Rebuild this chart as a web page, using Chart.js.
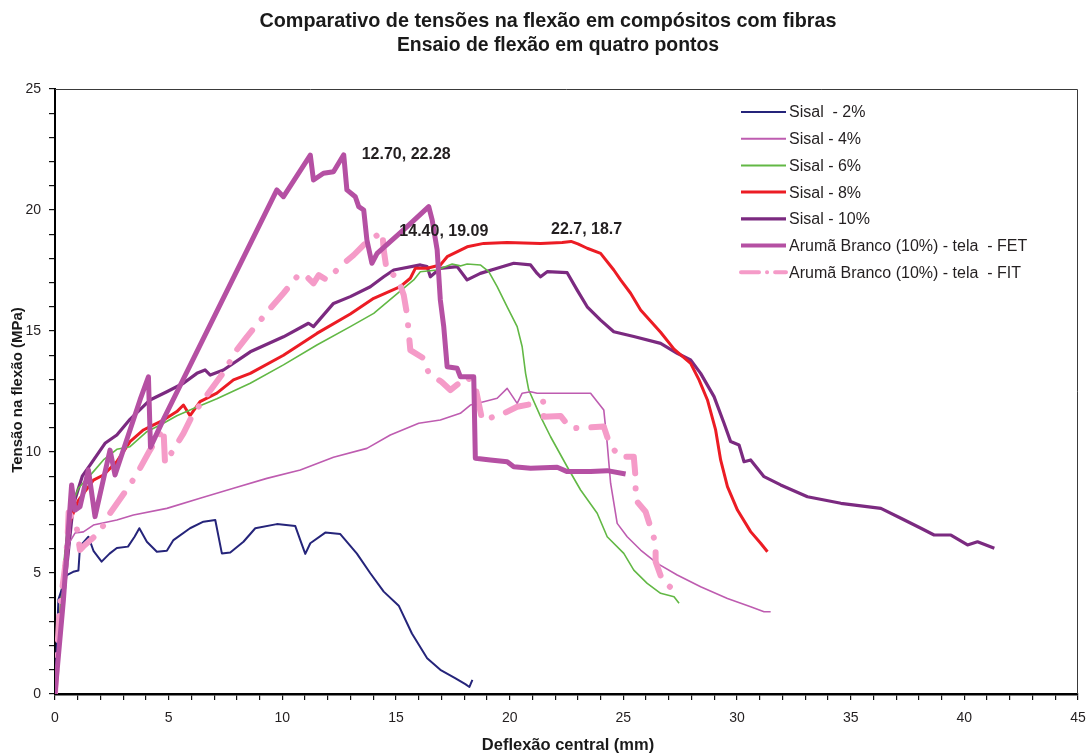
<!DOCTYPE html>
<html>
<head>
<meta charset="utf-8">
<script src="https://cdn.jsdelivr.net/npm/chart.js@4.4.1/dist/chart.umd.min.js"></script>
<style>
  html, body { margin: 0; padding: 0; background: #ffffff; }
  canvas { display: block; }
</style>
</head>
<body>
<canvas id="chart" width="1088" height="756"></canvas>
<script>
// Flexural stress (MPa) versus central deflection (mm), pairs of [deflection, stress]
const sisal2 = [[0,0],[0.15,3.9],[0.5,4.9],[0.8,5.05],[1.03,5.1],[1.1,6.1],[1.47,6.5],[1.7,5.9],[2.05,5.47],[2.4,5.8],[2.72,6.03],[3.21,6.09],[3.5,6.5],[3.71,6.85],[4.04,6.29],[4.48,5.88],[4.92,5.92],[5.21,6.36],[5.94,6.85],[6.53,7.12],[7.05,7.19],[7.34,5.81],[7.71,5.85],[8.29,6.29],[8.81,6.85],[9.76,7.02],[10.57,6.94],[10.79,6.36],[11.01,5.79],[11.23,6.23],[11.89,6.67],[12.55,6.61],[13.28,5.8],[13.87,4.99],[14.46,4.23],[15.12,3.65],[15.7,2.5],[16.37,1.48],[16.95,1.0],[17.6,0.66],[18.05,0.41],[18.23,0.29],[18.36,0.58]];

const sisal4 = [[0,0],[0.3,3.5],[0.6,6.2],[0.88,6.65],[1.25,6.7],[1.69,6.98],[2.72,7.19],[3.45,7.4],[4.92,7.67],[6.38,8.09],[7.85,8.5],[9.32,8.91],[10.79,9.26],[12.25,9.78],[13.72,10.15],[14.75,10.7],[16.0,11.19],[16.95,11.32],[17.83,11.6],[18.27,11.94],[18.86,12.08],[19.45,12.22],[19.89,12.63],[20.33,12.01],[20.55,12.43],[20.92,12.49],[21.21,12.43],[23.56,12.43],[24.14,11.74],[24.29,10.36],[24.44,8.71],[24.73,7.05],[25.17,6.5],[25.76,5.95],[26.49,5.4],[27.37,4.92],[28.4,4.43],[29.58,3.95],[30.6,3.61],[31.19,3.4],[31.48,3.4]];

const sisal6 = [[0,0],[0.3,4.5],[0.6,7.5],[1.03,8.5],[1.69,9.19],[2.13,9.67],[2.72,10.11],[3.3,10.22],[4.04,10.84],[4.77,11.19],[5.36,11.5],[6.09,11.8],[7.12,12.2],[8.59,12.84],[10.05,13.6],[11.52,14.42],[12.99,15.18],[14.02,15.73],[15.12,16.6],[15.78,17.11],[16.07,17.45],[16.81,17.52],[17.47,17.77],[17.83,17.69],[18.13,17.77],[18.71,17.73],[19.08,17.45],[19.45,16.83],[19.89,16.0],[20.33,15.18],[20.55,14.35],[20.7,13.25],[20.84,12.56],[21.36,11.46],[21.8,10.63],[22.53,9.39],[23.12,8.43],[23.85,7.47],[24.29,6.5],[25.02,5.81],[25.46,5.12],[26.05,4.57],[26.64,4.16],[27.23,4.02],[27.45,3.75]];

const sisal8 = [[0,0],[0.3,4.0],[0.6,7.0],[1.03,8.0],[1.69,8.84],[2.13,9.05],[2.72,9.6],[3.3,10.43],[3.89,10.91],[4.18,11.05],[4.77,11.32],[5.36,11.67],[5.65,11.94],[5.94,11.5],[6.38,12.08],[7.12,12.43],[7.85,12.98],[8.59,13.25],[10.05,14.0],[11.52,14.9],[12.99,15.7],[14.02,16.35],[15.19,16.83],[15.63,17.18],[15.85,17.59],[16.37,17.59],[16.95,17.73],[17.25,18.07],[18.13,18.48],[18.86,18.62],[19.89,18.66],[21.36,18.62],[22.31,18.66],[22.7,18.7],[23.0,18.6],[23.41,18.42],[24.0,18.21],[24.58,17.52],[24.88,17.11],[25.32,16.56],[25.76,15.87],[26.64,14.95],[27.23,14.25],[27.96,13.66],[28.33,12.98],[28.7,12.15],[29.06,10.91],[29.28,9.67],[29.58,8.57],[30.02,7.6],[30.6,6.71],[31.04,6.23],[31.34,5.88]];

const sisal10 = [[0,0],[0.4,4.2],[0.8,7.8],[1.2,9.0],[1.54,9.46],[2.2,10.36],[2.72,10.7],[3.3,11.35],[4.18,12.15],[4.92,12.49],[5.65,12.84],[6.24,13.25],[6.6,13.39],[6.83,13.18],[7.41,13.39],[8.59,14.14],[10.05,14.76],[11.15,15.32],[11.37,15.18],[12.25,16.14],[12.99,16.42],[13.87,16.83],[14.46,17.24],[14.9,17.52],[16.07,17.73],[16.37,17.66],[16.51,17.24],[16.95,17.59],[17.69,17.66],[18.13,17.11],[18.71,17.38],[19.45,17.59],[20.18,17.8],[20.92,17.73],[21.21,17.38],[21.36,17.24],[21.65,17.45],[22.53,17.41],[22.97,16.69],[23.41,16.0],[24.0,15.45],[24.58,14.97],[25.46,14.77],[26.64,14.49],[27.37,14.08],[27.96,13.8],[28.4,13.25],[28.99,12.29],[29.43,11.19],[29.72,10.43],[30.09,10.29],[30.31,9.6],[30.6,9.67],[31.19,8.98],[31.92,8.64],[33.1,8.15],[34.57,7.88],[36.33,7.67],[37.21,7.26],[38.09,6.85],[38.67,6.57],[39.41,6.57],[40.14,6.16],[40.58,6.29],[41.32,6.02]];

const arumaFET = [[0,0],[0.37,3.88],[0.73,8.64],[0.88,7.6],[1.1,7.74],[1.47,9.26],[1.76,7.33],[2.42,10.08],[2.64,9.05],[3.74,12.15],[4.11,13.11],[4.2,10.2],[4.77,11.35],[9.76,20.83],[10.05,20.55],[11.23,22.27],[11.37,21.24],[11.81,21.52],[12.25,21.58],[12.70,22.28],[12.84,20.83],[13.21,20.55],[13.36,20.14],[13.58,20.0],[13.72,18.76],[13.94,17.8],[14.17,18.21],[15.49,19.31],[16.44,20.14],[16.59,19.59],[16.81,18.35],[16.95,16.28],[17.1,15.18],[17.25,13.52],[17.69,13.46],[17.83,13.11],[18.42,13.11],[18.49,9.74],[19.15,9.67],[19.89,9.6],[20.18,9.39],[20.92,9.33],[22.09,9.37],[22.53,9.19],[23.56,9.19],[24.29,9.23],[25.1,9.09]];

const arumaFIT = [[0,0],[0.2,3.5],[0.45,5.3],[0.55,6.4],[0.6,7.5],[0.75,7.3],[0.95,6.9],[1.1,5.95],[1.25,6.1],[1.98,6.71],[2.42,7.47],[3.3,8.64],[3.74,9.33],[4.18,10.08],[4.77,10.98],[4.84,9.53],[5.65,10.77],[6.05,11.53],[6.53,12.15],[7.49,13.39],[7.93,14.14],[8.44,14.76],[9.47,15.94],[10.05,16.56],[10.64,17.24],[10.93,17.38],[11.37,16.97],[11.6,17.31],[11.96,17.11],[12.62,17.73],[13.14,18.14],[13.72,18.69],[14.40,19.09],[14.46,18.35],[14.6,17.45],[15.05,17.24],[15.34,16.49],[15.49,15.66],[15.63,14.21],[16.22,13.87],[16.44,13.25],[17.0,12.9],[17.39,12.56],[18.13,13.11],[18.49,12.7],[18.79,11.32],[19.6,11.53],[20.33,11.87],[21.5,12.08],[21.5,11.46],[22.24,11.49],[22.68,10.98],[24.14,11.05],[24.36,10.43],[24.8,9.8],[25.46,9.8],[25.54,8.91],[25.54,8.02],[25.98,7.53],[26.42,6.23],[26.42,5.47],[26.71,4.71],[27.45,4.09]];

const seriesLabels = ['Sisal  - 2%', 'Sisal - 4%', 'Sisal - 6%', 'Sisal - 8%', 'Sisal - 10%',
  'Arumã Branco (10%) - tela  - FET', 'Arumã Branco (10%) - tela  - FIT'];

// Peak annotations: [deflection, stress] with the text shown beside them
const peakPoints = [[12.70, 22.28], [14.40, 19.09], [22.7, 18.7]];
const peakTexts = ['12.70, 22.28', '14.40, 19.09', '22.7, 18.7'];

const titleLines = ['Comparativo de tensões na flexão em compósitos com fibras', 'Ensaio de flexão em quatro pontos'];
const xAxisTitle = 'Deflexão central (mm)';
const yAxisTitle = 'Tensão na flexão (MPa)';

const xRange = [0, 45];
const yRange = [0, 25];
const labelEvery = 5;

const FONT = '"Liberation Sans", Arial, Helvetica, sans-serif';
const toXY = arr => arr.map(p => ({ x: p[0], y: p[1] }));

const styles = [
  { color: '#25247a', width: 2,   order: 3 },
  { color: '#be5cb0', width: 1.6, order: 3 },
  { color: '#62b845', width: 1.6, order: 3 },
  { color: '#ec1c24', width: 3,   order: 3 },
  { color: '#7b2a80', width: 3.2, order: 3 },
  { color: '#b550a3', width: 5,   order: 1 },
  { color: '#f59bc8', width: 6,   order: 2, dash: [24, 15, 0.1, 15] }
];
const seriesData = [sisal2, sisal4, sisal6, sisal8, sisal10, arumaFET, arumaFIT];

const datasets = seriesData.map((d, i) => ({
  label: seriesLabels[i],
  data: toXY(d),
  borderColor: styles[i].color,
  backgroundColor: styles[i].color,
  borderWidth: styles[i].width,
  borderDash: styles[i].dash || [],
  borderCapStyle: styles[i].dash ? 'round' : 'butt',
  borderJoinStyle: 'round',
  pointRadius: 0,
  tension: 0,
  fill: false,
  order: styles[i].order
}));

// Titles, frame, legend box and peak labels drawn on top of the chart
const decorations = {
  id: 'decorations',
  afterDraw(chart) {
    const ctx = chart.ctx;
    const area = chart.chartArea;
    const xs = chart.scales.x, ys = chart.scales.y;
    ctx.save();

    // thin frame on the top and right of the plot
    ctx.strokeStyle = '#3a3a3a';
    ctx.lineWidth = 1;
    ctx.beginPath();
    ctx.moveTo(area.left, area.top + 0.5);
    ctx.lineTo(area.right - 0.5, area.top + 0.5);
    ctx.lineTo(area.right - 0.5, area.bottom);
    ctx.stroke();

    // main title
    ctx.fillStyle = '#1a1a1a';
    ctx.textAlign = 'center';
    ctx.textBaseline = 'middle';
    ctx.font = 'bold 19.8px ' + FONT;
    ctx.fillText(titleLines[0], 548, 22);
    ctx.font = 'bold 19.4px ' + FONT;
    ctx.fillText(titleLines[1], 558, 46);

    // axis titles
    ctx.font = 'bold 16.5px ' + FONT;
    ctx.fillText(xAxisTitle, 568, 745);
    ctx.save();
    ctx.translate(18, 390);
    ctx.rotate(-Math.PI / 2);
    ctx.font = 'bold 15px ' + FONT;
    ctx.fillText(yAxisTitle, 0, 0);
    ctx.restore();

    // legend
    const lx0 = 741, lx1 = 786, ly0 = 112, lstep = 26.7;
    chart.data.datasets.forEach((ds, i) => {
      const y = ly0 + i * lstep;
      ctx.save();
      ctx.strokeStyle = ds.borderColor;
      const w = Math.min(ds.borderWidth, 4);
      ctx.lineWidth = Math.max(w, 2);
      if (ds.borderDash && ds.borderDash.length) {
        ctx.lineCap = 'round';
        ctx.setLineDash([18, 8, 0.1, 8]);
      } else {
        ctx.lineCap = 'butt';
      }
      ctx.beginPath();
      ctx.moveTo(lx0, y);
      ctx.lineTo(lx1, y);
      ctx.stroke();
      ctx.restore();
      ctx.fillStyle = '#231f20';
      ctx.font = '16px ' + FONT;
      ctx.textAlign = 'left';
      ctx.textBaseline = 'middle';
      ctx.fillText(ds.label, lx1 + 3, y + 1);
    });

    // peak value labels
    const offsets = [[18, 0], [17, 0], [-20, -12]];
    ctx.font = 'bold 16px ' + FONT;
    ctx.fillStyle = '#231f20';
    ctx.textAlign = 'left';
    ctx.textBaseline = 'middle';
    peakPoints.forEach((p, i) => {
      const px = xs.getPixelForValue(p[0]);
      const py = ys.getPixelForValue(p[1]);
      ctx.fillText(peakTexts[i], px + offsets[i][0], py + offsets[i][1]);
    });

    ctx.restore();
  }
};

const tickColor = '#111111';

new Chart(document.getElementById('chart'), {
  type: 'line',
  data: { datasets },
  plugins: [decorations],
  options: {
    responsive: false,
    animation: false,
    devicePixelRatio: 1,
    layout: { padding: { top: 89, right: 10, left: 0, bottom: 0 } },
    plugins: {
      legend: { display: false },
      title: { display: false },
      tooltip: { enabled: false }
    },
    scales: {
      x: {
        type: 'linear',
        min: xRange[0], max: xRange[1],
        afterFit(scale) { scale.height = 62; scale.paddingLeft = 0; scale.paddingRight = 0; },
        border: { display: true, color: '#000000', width: 2.5 },
        grid: { drawOnChartArea: false, drawTicks: true, tickLength: 6, color: tickColor, lineWidth: 1.2 },
        ticks: {
          stepSize: 1, autoSkip: false, maxRotation: 0, padding: 10,
          color: '#231f20', font: { family: FONT, size: 14 },
          callback: v => (v % labelEvery === 0 ? String(v) : '')
        }
      },
      y: {
        type: 'linear',
        min: yRange[0], max: yRange[1],
        afterFit(scale) { scale.width = 55; scale.paddingTop = 0; scale.paddingBottom = 0; },
        border: { display: true, color: '#000000', width: 2 },
        grid: { drawOnChartArea: false, drawTicks: true, tickLength: 6, color: tickColor, lineWidth: 1.2 },
        ticks: {
          stepSize: 1, autoSkip: false, padding: 8,
          color: '#231f20', font: { family: FONT, size: 14 },
          callback: v => (v % labelEvery === 0 ? String(v) : '')
        }
      }
    }
  }
});
</script>
</body>
</html>
